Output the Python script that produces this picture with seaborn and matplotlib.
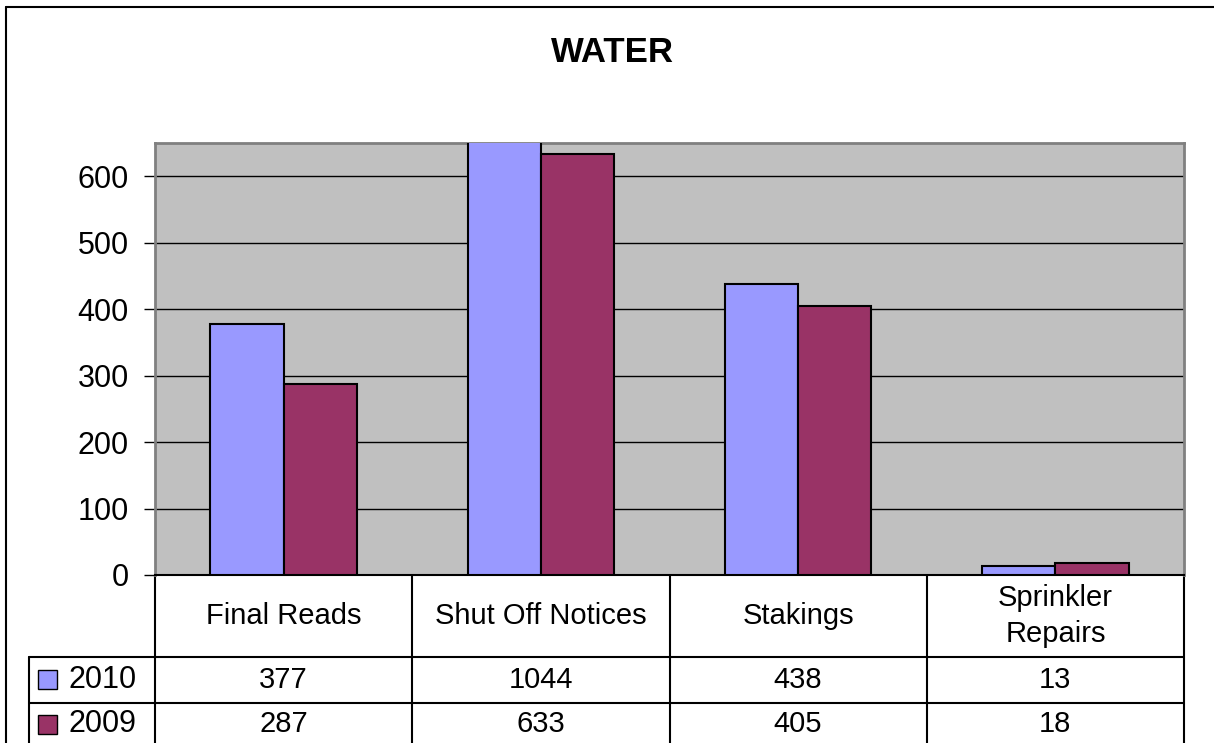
import numpy as np
import pandas as pd
import matplotlib.pyplot as plt
import seaborn as sns
from matplotlib.patches import Rectangle
from matplotlib.lines import Line2D

categories = ['Final Reads', 'Shut Off Notices', 'Stakings', 'Sprinkler\nRepairs']
years = ['2010', '2009']
values_2010 = [377, 1044, 438, 13]
values_2009 = [287, 633, 405, 18]
colors = ['#9999FF', '#993366']

df = pd.DataFrame({'category': categories * 2,
                   'year': [years[0]] * len(categories) + [years[1]] * len(categories),
                   'count': values_2010 + values_2009})

sns.set_style('white')
plt.rcParams['font.family'] = ['Liberation Sans', 'DejaVu Sans']
plt.rcParams['text.color'] = 'black'
plt.rcParams['ytick.color'] = 'black'
plt.rcParams['ytick.labelcolor'] = 'black'

W, H = 1214, 743
fig = plt.figure(figsize=(W / 100, H / 100), dpi=100)
ax = fig.add_axes([155 / W, 168 / H, 1029 / W, 432 / H])
ax.set_facecolor('#C0C0C0')

sns.barplot(data=df, x='category', y='count', hue='year', hue_order=years,
            palette=colors, width=0.57, edgecolor='black', linewidth=1.5,
            saturation=1, legend=False, ax=ax, zorder=3)

ax.set_ylim(0, 650)
ax.set_xlim(-0.5, len(categories) - 0.5)
ax.set_yticks(range(0, 700, 100))
ax.yaxis.grid(True, color='black', linewidth=1)
ax.set_axisbelow(True)
ax.set_xlabel('')
ax.set_ylabel('')
ax.set_xticklabels([])
ax.tick_params(axis='x', length=0)
ax.tick_params(axis='y', left=True, length=8, width=1, pad=11, labelsize=22)
for side in ['top', 'left', 'right']:
    ax.spines[side].set_color('#808080')
    ax.spines[side].set_linewidth(2)
ax.spines['bottom'].set_color('black')
ax.spines['bottom'].set_linewidth(1.5)

# data table under the plot (axes-fraction coordinates)
n = len(categories)
head_bot, row1_bot, tab_bot = -0.19, -0.296, -0.42
left_x = -0.1225
tr = ax.transAxes
for i in range(n + 1):
    ax.plot([i / n, i / n], [0, tab_bot], color='black', lw=1.5,
            transform=tr, clip_on=False)
for y in [head_bot, row1_bot]:
    ax.plot([left_x, 1], [y, y], color='black', lw=1.5, transform=tr, clip_on=False)
ax.plot([left_x, left_x], [head_bot, tab_bot], color='black', lw=1.5,
        transform=tr, clip_on=False)

for i, cat in enumerate(categories):
    ax.text((i + 0.5) / n, head_bot / 2, cat, transform=tr, ha='center',
            va='center', fontsize=21, linespacing=1.4)

row_h = row1_bot - head_bot
row_centers = [head_bot + row_h / 2, row1_bot + row_h / 2 + 0.004]
for yr, vals, col, yc in zip(years, [values_2010, values_2009], colors, row_centers):
    for i, v in enumerate(vals):
        ax.text((i + 0.5) / n, yc, str(v), transform=tr, ha='center',
                va='center', fontsize=21)
    ax.add_patch(Rectangle((-0.1137, yc - 0.022), 0.0185, 0.044, facecolor=col,
                           edgecolor='black', lw=1, transform=tr, clip_on=False))
    ax.text(-0.0845, yc, yr, transform=tr, ha='left', va='center', fontsize=22)

# outer chart border (top and left edges visible)
fig.add_artist(Line2D([6 / W, 1], [1 - 7 / H, 1 - 7 / H], color='black', lw=1.5))
fig.add_artist(Line2D([6 / W, 6 / W], [0, 1 - 7 / H], color='black', lw=1.5))

fig.text(612 / W, 1 - 53 / H, 'WATER', ha='center', va='center', fontsize=25,
         fontweight='bold')

fig.savefig('out.png', dpi=100)
